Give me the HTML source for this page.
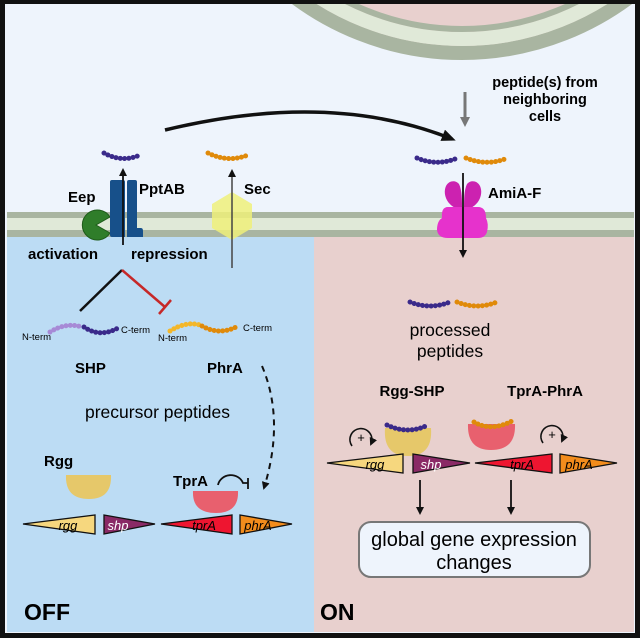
<!DOCTYPE html>
<html><head><meta charset="utf-8"><style>
html,body{margin:0;padding:0;background:#fff}
svg{display:block;font-family:"Liberation Sans",Arial,sans-serif}
.b{font-weight:bold}
</style></head><body>
<svg width="640" height="638" viewBox="0 0 640 638" xmlns="http://www.w3.org/2000/svg">
<defs>
<clipPath id="top"><rect x="5" y="4" width="630" height="210"/></clipPath>
<marker id="ah" markerWidth="8" markerHeight="8" refX="6" refY="4" orient="auto" markerUnits="userSpaceOnUse"><path d="M0,0 L8,4 L0,8 z" fill="#111"/></marker>
<marker id="ahg" markerWidth="10" markerHeight="10" refX="7" refY="5" orient="auto" markerUnits="userSpaceOnUse"><path d="M0,0 L10,5 L0,10 z" fill="#777"/></marker>
<marker id="ahb" markerWidth="14" markerHeight="12" refX="10" refY="6" orient="auto" markerUnits="userSpaceOnUse"><path d="M0,0 L14,6 L0,12 z" fill="#111"/></marker>
</defs>
<rect x="0" y="0" width="640" height="638" fill="#111"/>
<rect x="5" y="4" width="630" height="629" fill="#eef4fc"/>
<!-- neighbor cell -->
<g clip-path="url(#top)">
<circle cx="462" cy="-226" r="279" fill="#e8d0ce" stroke="#a9b5a1" stroke-width="14"/>
<circle cx="462" cy="-226" r="265" fill="none" stroke="#e0e9d8" stroke-width="14"/>
<circle cx="462" cy="-226" r="255" fill="none" stroke="#a9b5a1" stroke-width="6"/>
</g>
<!-- panels -->
<rect x="7" y="236" width="307" height="396" fill="#bcdcf4"/>
<rect x="314" y="236" width="320" height="396" fill="#e8d0ce"/>
<!-- membrane -->
<rect x="7" y="212" width="627" height="25" fill="#a9b5a1"/>
<rect x="7" y="218" width="627" height="12" fill="#e0e9d8"/>

<text x="545" y="87" class="b" font-size="14.5" text-anchor="middle">peptide(s) from</text>
<text x="545" y="104" class="b" font-size="14.5" text-anchor="middle">neighboring</text>
<text x="545" y="121" class="b" font-size="14.5" text-anchor="middle">cells</text>
<line x1="465" y1="92" x2="465" y2="124" stroke="#777" stroke-width="3" marker-end="url(#ahg)"/>
<path d="M165,130 Q330,90 452,139" fill="none" stroke="#111" stroke-width="3.5" marker-end="url(#ahb)"/>

<path d="M104,153 Q122,163 140,155" fill="none" stroke="#3a2a8a" stroke-width="5" stroke-linecap="round" stroke-dasharray="0.1 4.2"/>
<path d="M208,153 Q228,163 248,155" fill="none" stroke="#e08a0a" stroke-width="5" stroke-linecap="round" stroke-dasharray="0.1 4.2"/>
<path d="M417,158 Q436,166 455,159" fill="none" stroke="#3a2a8a" stroke-width="5" stroke-linecap="round" stroke-dasharray="0.1 4.2"/>
<path d="M466,158 Q486,166 505,159" fill="none" stroke="#e08a0a" stroke-width="5" stroke-linecap="round" stroke-dasharray="0.1 4.2"/>

<path d="M96,225 L110,217 A15,15 0 1 0 110,233 Z" fill="#2f7d2a" stroke="#1e5a1a" stroke-width="1"/>
<path d="M112,180 L123,180 Q125,180 125,182 L125,237 L112,237 Q110,237 110,235 L110,182 Q110,180 112,180 Z" fill="#17508a"/>
<path d="M129,180 L135,180 Q137,180 137,182 L137,228 L141,228 Q143,228 143,231 L143,237 L127,237 L127,182 Q127,180 129,180 Z" fill="#17508a"/>
<line x1="123" y1="245" x2="123" y2="170" stroke="#111" stroke-width="1.8" marker-end="url(#ah)"/>
<polygon points="232,192 252,204 252,228 232,240 212,228 212,204" fill="#eef07a" opacity="0.85"/>
<line x1="232" y1="268" x2="232" y2="171" stroke="#444" stroke-width="1.5" marker-end="url(#ah)"/>
<text x="68" y="202" class="b" font-size="15">Eep</text>
<text x="139" y="194" class="b" font-size="15">PptAB</text>
<text x="244" y="194" class="b" font-size="15">Sec</text>
<text x="28" y="259" class="b" font-size="15">activation</text>
<text x="131" y="259" class="b" font-size="15">repression</text>

<!-- AmiA-F -->
<path d="M462,210 C448,208 442,195 446,186 C449,180 456,180 459,184 C462,190 462,200 462,210 Z" fill="#cc22b0"/>
<path d="M464,210 C464,200 464,190 467,184 C470,180 477,180 480,186 C484,195 478,208 464,210 Z" fill="#cc22b0"/>
<path d="M448,207 L478,207 Q486,207 486,218 Q489,224 487,232 Q485,238 478,238 L448,238 Q438,238 437,230 Q437,221 442,218 Q441,207 448,207 Z" fill="#e632cc"/>
<line x1="463" y1="173" x2="463" y2="256" stroke="#111" stroke-width="1.8" marker-end="url(#ah)"/>
<text x="488" y="198" class="b" font-size="15">AmiA-F</text>

<line x1="80" y1="311" x2="122" y2="270" stroke="#111" stroke-width="2.5"/>
<line x1="122" y1="270" x2="165" y2="307" stroke="#c62828" stroke-width="2.5"/>
<line x1="159" y1="314" x2="171" y2="300" stroke="#c62828" stroke-width="2.5"/>

<path d="M50,332 Q66,322 82,327" fill="none" stroke="#a78ad6" stroke-width="5" stroke-linecap="round" stroke-dasharray="0.1 4.2"/>
<path d="M84,327 Q100,338 118,328" fill="none" stroke="#3a2a8a" stroke-width="5" stroke-linecap="round" stroke-dasharray="0.1 4.2"/>
<path d="M170,331 Q186,321 200,325" fill="none" stroke="#f3b72a" stroke-width="5" stroke-linecap="round" stroke-dasharray="0.1 4.2"/>
<path d="M202,326 Q220,336 238,326" fill="none" stroke="#e08a0a" stroke-width="5" stroke-linecap="round" stroke-dasharray="0.1 4.2"/>
<text x="22" y="340" font-size="9.5">N-term</text>
<text x="121" y="333" font-size="9.5">C-term</text>
<text x="158" y="341" font-size="9.5">N-term</text>
<text x="243" y="331" font-size="9.5">C-term</text>
<text x="75" y="373" class="b" font-size="15">SHP</text>
<text x="207" y="373" class="b" font-size="15">PhrA</text>
<text x="85" y="418" font-size="17.5">precursor peptides</text>
<path d="M262,366 Q285,420 264,488" fill="none" stroke="#111" stroke-width="2" stroke-dasharray="6 5" marker-end="url(#ah)"/>

<text x="44" y="466" class="b" font-size="15">Rgg</text>
<path d="M66,475 L111,475 Q112,499 89,499 Q65,499 66,475 Z" fill="#e6c86a"/>
<text x="173" y="486" class="b" font-size="15">TprA</text>
<path d="M218,485 A13,12 0 0 1 243,483 L248,483" fill="none" stroke="#111" stroke-width="1.8"/>
<line x1="248" y1="478" x2="248" y2="489" stroke="#111" stroke-width="1.8"/>
<path d="M193,491 L238,491 Q239,513 216,513 Q192,513 193,491 Z" fill="#e8606e"/>
<polygon points="23,524 95,515 95,534" fill="#f6d77e" stroke="#111" stroke-width="1.3"/>
<text x="68" y="530" font-size="13" font-style="italic" text-anchor="middle">rgg</text>
<polygon points="104,515 104,534 155,524" fill="#8a2a66" stroke="#111" stroke-width="1.3"/>
<text x="118" y="530" font-size="13" font-style="italic" fill="#fff" text-anchor="middle">shp</text>
<polygon points="161,524 232,515 232,534" fill="#ee1530" stroke="#111" stroke-width="1.3"/>
<text x="204" y="530" font-size="13" font-style="italic" text-anchor="middle">tprA</text>
<polygon points="240,515 240,534 292,524" fill="#f28c1c" stroke="#111" stroke-width="1.3"/>
<text x="258" y="530" font-size="13" font-style="italic" text-anchor="middle">phrA</text>
<text x="24" y="620" class="b" font-size="23">OFF</text>

<path d="M410,302 Q430,310 450,302" fill="none" stroke="#3a2a8a" stroke-width="5" stroke-linecap="round" stroke-dasharray="0.1 4.2"/>
<path d="M457,302 Q477,310 497,302" fill="none" stroke="#e08a0a" stroke-width="5" stroke-linecap="round" stroke-dasharray="0.1 4.2"/>
<text x="450" y="336" font-size="17.5" text-anchor="middle">processed</text>
<text x="450" y="357" font-size="17.5" text-anchor="middle">peptides</text>
<text x="412" y="396" class="b" font-size="15" text-anchor="middle">Rgg-SHP</text>
<text x="545" y="396" class="b" font-size="15" text-anchor="middle">TprA-PhrA</text>

<path d="M385,428 L431,428 Q433,456 408,456 Q383,456 385,428 Z" fill="#e6c86a"/>
<path d="M387,425 Q408,435 428,425" fill="none" stroke="#3a2a8a" stroke-width="5" stroke-linecap="round" stroke-dasharray="0.1 4.2"/>
<path d="M468,424 L515,424 Q516,450 491,450 Q467,450 468,424 Z" fill="#e8606e"/>
<path d="M474,422 Q491,432 512,421" fill="none" stroke="#e08a0a" stroke-width="5" stroke-linecap="round" stroke-dasharray="0.1 4.2"/>
<path d="M352,446 A11,11 0 1 1 371,444" fill="none" stroke="#111" stroke-width="1.6" marker-end="url(#ah)"/>
<text x="361" y="442" font-size="13" text-anchor="middle">+</text>
<path d="M543,443 A11,11 0 1 1 562,441" fill="none" stroke="#111" stroke-width="1.6" marker-end="url(#ah)"/>
<text x="552" y="439" font-size="13" text-anchor="middle">+</text>
<polygon points="327,463 403,454 403,473" fill="#f6d77e" stroke="#111" stroke-width="1.3"/>
<text x="375" y="469" font-size="13" font-style="italic" text-anchor="middle">rgg</text>
<polygon points="413,454 413,473 470,463" fill="#8a2a66" stroke="#111" stroke-width="1.3"/>
<text x="431" y="469" font-size="13" font-style="italic" fill="#fff" text-anchor="middle">shp</text>
<polygon points="475,463 552,454 552,473" fill="#ee1530" stroke="#111" stroke-width="1.3"/>
<text x="522" y="469" font-size="13" font-style="italic" text-anchor="middle">tprA</text>
<polygon points="560,454 560,473 617,463" fill="#f28c1c" stroke="#111" stroke-width="1.3"/>
<text x="579" y="469" font-size="13" font-style="italic" text-anchor="middle">phrA</text>
<line x1="420" y1="480" x2="420" y2="513" stroke="#111" stroke-width="1.8" marker-end="url(#ah)"/>
<line x1="511" y1="480" x2="511" y2="513" stroke="#111" stroke-width="1.8" marker-end="url(#ah)"/>
<rect x="359" y="522" width="231" height="55" rx="12" fill="#eef4fc" stroke="#777" stroke-width="2"/>
<text x="474" y="546" font-size="20" text-anchor="middle">global gene expression</text>
<text x="474" y="569" font-size="20" text-anchor="middle">changes</text>
<text x="320" y="620" class="b" font-size="23">ON</text>
</svg>
</body></html>
